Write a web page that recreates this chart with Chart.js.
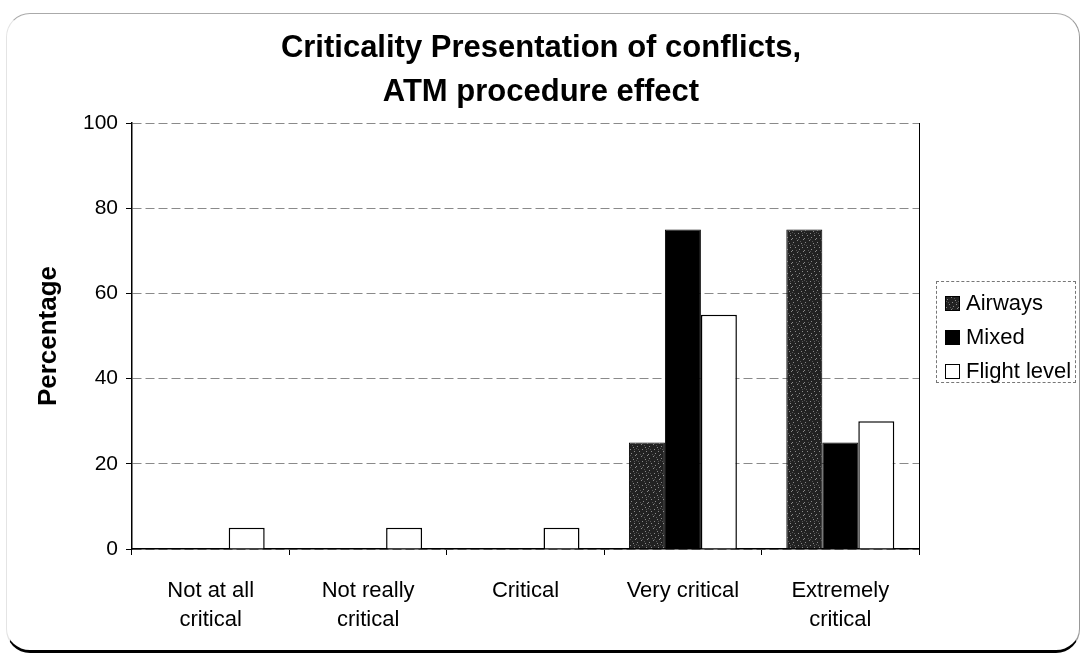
<!DOCTYPE html>
<html>
<head>
<meta charset="utf-8">
<script src="https://cdn.jsdelivr.net/npm/chart.js@4/dist/chart.umd.min.js"></script>
<style>
  body { margin: 0; background: #fff; }
  #wrap { position: relative; width: 1082px; height: 660px; }
  #frame {
    position: absolute; left: 6px; top: 13px; width: 1072px; height: 636px;
    border-top: 1px solid #aaa; border-left: 1px solid #e4e4e4;
    border-right: 1px solid #999; border-bottom: 3px solid #000;
    border-radius: 24px; pointer-events: none;
  }
  #legend {
    position: absolute; left: 936px; top: 281px; width: 140px; height: 102px;
    border: 1px dashed #777; box-sizing: border-box;
    font: 22px 'Liberation Sans', Arial, sans-serif; color: #000;
  }
  #legend div { position: absolute; left: 8px; height: 24px; line-height: 24px; white-space: nowrap; }
  #legend span {
    display: inline-block; width: 15px; height: 15px; box-sizing: border-box;
    border: 1px solid #000; margin-right: 6px; vertical-align: -1px;
  }
</style>
</head>
<body>
<div id="wrap">
  <canvas id="myChart" width="1082" height="660"></canvas>
  <div id="frame"></div>
  <div id="legend"></div>
</div>
<script>
var categories = [['Not at all', 'critical'], ['Not really', 'critical'], 'Critical', 'Very critical', ['Extremely', 'critical']];
var seriesNames = ['Airways', 'Mixed', 'Flight level'];
var airways = [0, 0, 0, 25, 75];
var mixed = [0, 0, 0, 75, 25];
var flightLevel = [5, 5, 5, 55, 30];
var yTicks = [0, 20, 40, 60, 80, 100];

var fontFamily = "'Liberation Sans', Arial, sans-serif";

// speckled dark fill for the Airways bars
var tile = document.createElement('canvas');
tile.width = 12; tile.height = 12;
var tctx = tile.getContext('2d');
tctx.fillStyle = '#222';
tctx.fillRect(0, 0, 12, 12);
tctx.fillStyle = '#8a8a8a';
[[1, 2], [5, 0], [9, 3], [3, 7], [7, 9], [10, 7], [0, 10], [6, 5], [11, 11]].forEach(function (p) {
    tctx.fillRect(p[0], p[1], 1, 1);
});
tctx.fillStyle = '#555';
[[2, 5], [8, 1], [4, 10], [10, 5], [6, 11], [0, 4]].forEach(function (p) {
    tctx.fillRect(p[0], p[1], 1, 1);
});

var ctx = document.getElementById('myChart');
var speckle = ctx.getContext('2d').createPattern(tile, 'repeat');
var fills = [speckle, '#000', '#fff'];

Chart.defaults.color = '#000';
Chart.defaults.font.family = fontFamily;

var myChart = new Chart(ctx, {
    type: 'bar',
    data: {
        labels: categories,
        datasets: [
            { label: seriesNames[0], data: airways, backgroundColor: speckle, borderColor: '#000', borderWidth: 1 },
            { label: seriesNames[1], data: mixed, backgroundColor: '#000', borderColor: '#000', borderWidth: 1 },
            { label: seriesNames[2], data: flightLevel, backgroundColor: '#fff', borderColor: '#000', borderWidth: 1.5 }
        ]
    },
    options: {
        responsive: false,
        animation: false,
        layout: { padding: 0 },
        categoryPercentage: 0.686,
        barPercentage: 1,
        plugins: {
            legend: { display: false },
            tooltip: { enabled: false },
            title: {
                display: true,
                text: ['Criticality Presentation of conflicts,', 'ATM procedure effect'],
                font: { size: 31, weight: 'bold', lineHeight: 1.42 },
                padding: { top: 26, bottom: 9 }
            }
        },
        scales: {
            x: {
                grid: { display: true, drawOnChartArea: false, tickLength: 6, color: '#000' },
                border: { display: true, color: '#000', width: 1.5 },
                ticks: { font: { size: 22, lineHeight: 1.32 }, padding: 21, maxRotation: 0, autoSkip: false },
                afterFit: function (s) { s.height = 111; }
            },
            y: {
                min: 0,
                max: 100,
                afterBuildTicks: function (s) { s.ticks = yTicks.map(function (v) { return { value: v }; }); },
                grid: { color: '#8a8a8a', lineWidth: 1, tickLength: 6, tickColor: '#000' },
                border: { display: true, color: '#000', width: 1.5, dash: [9, 4] },
                ticks: { font: { size: 21 }, padding: 8 },
                title: {
                    display: true,
                    text: 'Percentage',
                    font: { size: 26, weight: 'bold', lineHeight: 1.2 },
                    padding: { top: 33, bottom: 0 }
                },
                afterFit: function (s) { s.width = 132; }
            },
            yRight: {
                type: 'linear',
                position: 'right',
                grid: { display: false },
                ticks: { display: false },
                border: { display: true, color: '#000', width: 1 },
                afterFit: function (s) { s.width = 163; }
            }
        }
    }
});

// legend box on the right
var legend = document.getElementById('legend');
seriesNames.forEach(function (name, i) {
    var row = document.createElement('div');
    row.style.top = (9 + i * 34) + 'px';
    var sw = document.createElement('span');
    if (i === 0) {
        sw.style.backgroundImage = 'url(' + tile.toDataURL() + ')';
    } else {
        sw.style.background = fills[i];
    }
    row.appendChild(sw);
    row.appendChild(document.createTextNode(name));
    legend.appendChild(row);
});
</script>
</body>
</html>
